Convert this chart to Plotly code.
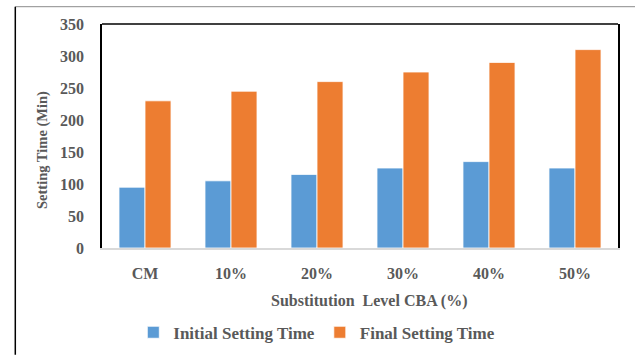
import plotly.graph_objects as go

categories = ["CM", "10%", "20%", "30%", "40%", "50%"]
initial_setting = [95, 105, 115, 125, 135, 125]
final_setting = [230, 245, 260, 275, 290, 310]
y_ticks = [0, 50, 100, 150, 200, 250, 300, 350]

FONT = "Liberation Serif"
GREY = "#595959"

fig = go.Figure()
fig.add_bar(x=categories, y=initial_setting, name="Initial Setting Time",
            marker=dict(color="#5B9BD5", line=dict(color="#ffffff", width=0.8)))
fig.add_bar(x=categories, y=final_setting, name="Final Setting Time",
            marker=dict(color="#ED7D31", line=dict(color="#ffffff", width=0.8)))

L, R, T, B = 101.7, 17.3, 24.3, 106.7
W = 635 - L - R
H = 355 - T - B

def px(x):
    return (x - L) / W

def py(y):
    return (355 - B - y) / H

fnt = dict(family=FONT, size=16, color=GREY, weight="bold")
leg_fnt = dict(family=FONT, size=17, color=GREY, weight="bold")
ytitle_fnt = dict(family=FONT, size=14.5, color=GREY, weight="bold")

fig.update_layout(
    width=635, height=355,
    margin=dict(l=L, r=R, t=T, b=B, autoexpand=False),
    paper_bgcolor="white", plot_bgcolor="white",
    barmode="group", bargap=0.395, bargroupgap=0,
    font=fnt,
    showlegend=True,
    legend=dict(orientation="h", x=px(133), xanchor="left", y=py(333), yanchor="middle",
                font=leg_fnt, itemwidth=30, tracegroupgap=0, bgcolor="rgba(0,0,0,0)"),
    xaxis=dict(showline=True, linecolor="#D9D9D9", linewidth=1.5, showgrid=False,
               ticks="", tickfont=fnt, ticklabelstandoff=10),
    yaxis=dict(range=[0, 350], tickvals=y_ticks, showgrid=False, zeroline=False,
               showline=True, linecolor="#000000", linewidth=1.5, mirror=True,
               ticks="", tickfont=fnt, ticklabelstandoff=13),
    shapes=[
        dict(type="line", xref="paper", yref="paper", x0=0, x1=1, y0=1, y1=1,
             line=dict(color="#000000", width=1.5)),
        dict(type="line", xref="paper", yref="paper", x0=px(15), x1=px(635), y0=py(7), y1=py(7),
             line=dict(color="#8C8C8C", width=1)),
        dict(type="line", xref="paper", yref="paper", x0=px(15), x1=px(15), y0=py(7), y1=py(355),
             line=dict(color="#000000", width=1.5)),
    ],
    annotations=[
        dict(text="Substitution  Level CBA (%)", xref="paper", yref="paper",
             x=px(368.5), y=py(301.7), xanchor="center", yanchor="middle", showarrow=False,
             font=fnt),
        dict(text="Setting Time (Min)", xref="paper", yref="paper", textangle=-90,
             x=px(42), y=py(150), xanchor="center", yanchor="middle", showarrow=False,
             font=ytitle_fnt),
    ],
)

fig.write_html("out.html", config={"displayModeBar": False},
               post_script="document.body.style.margin='0';document.body.style.overflow='hidden';")
